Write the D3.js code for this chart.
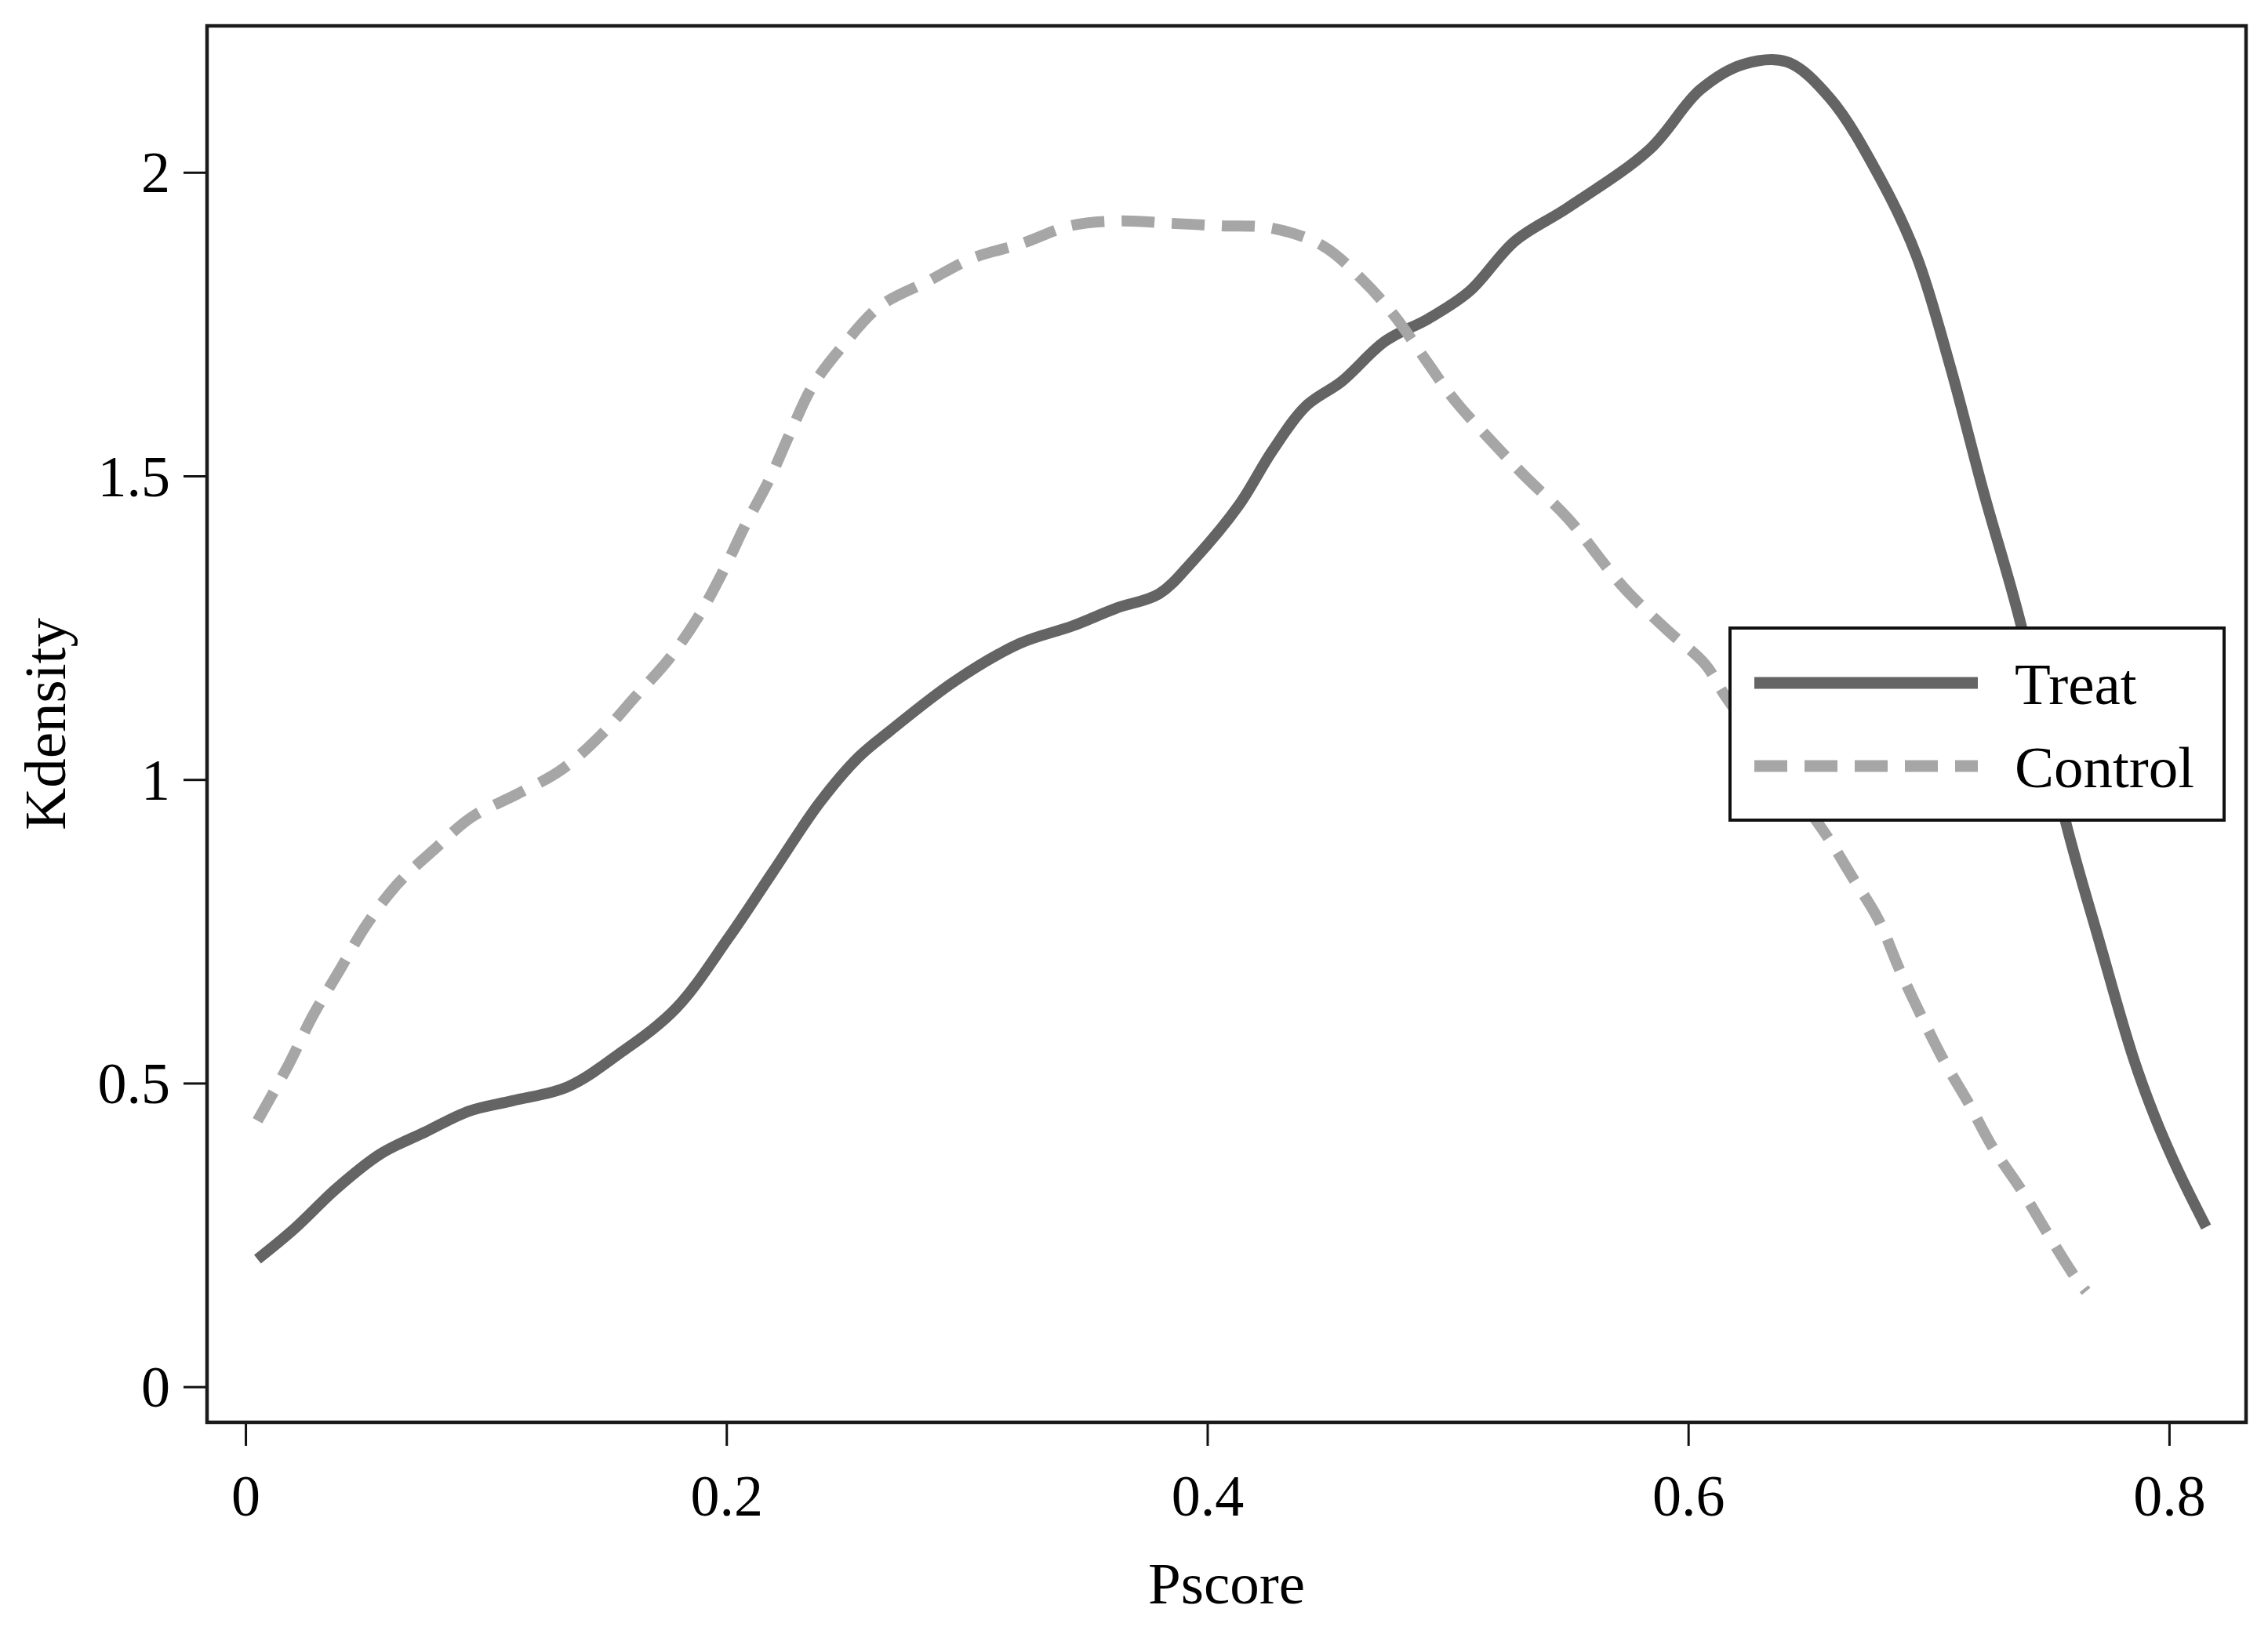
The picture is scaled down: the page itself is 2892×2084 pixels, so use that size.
<!DOCTYPE html>
<html>
<head>
<meta charset="utf-8">
<script src="https://cdn.jsdelivr.net/npm/d3@7"></script>
<style>
  body { margin: 0; background: #fff; }
  svg { display: block; }
</style>
</head>
<body>
<svg id="kdensityChart"></svg>
<script>
// pscore / kernel density
const treatPscore = [0.005, 0.02, 0.038, 0.056, 0.075, 0.093, 0.111, 0.134, 0.156, 0.179, 0.201, 0.219,
  0.239, 0.255, 0.268, 0.295, 0.322, 0.344, 0.362, 0.380, 0.394, 0.413, 0.427, 0.441, 0.456, 0.474,
  0.492, 0.509, 0.528, 0.550, 0.584, 0.605, 0.623, 0.641, 0.659, 0.680, 0.695, 0.709, 0.723, 0.738,
  0.757, 0.771, 0.785, 0.794, 0.8035, 0.8154];
const treatDensity = [0.21, 0.259, 0.327, 0.383, 0.42, 0.454, 0.471, 0.494, 0.55, 0.623, 0.74, 0.846,
  0.963, 1.037, 1.08, 1.162, 1.224, 1.253, 1.282, 1.306, 1.36, 1.451, 1.541, 1.615, 1.656, 1.722,
  1.759, 1.804, 1.887, 1.942, 2.038, 2.136, 2.178, 2.182, 2.122, 1.989, 1.862, 1.68, 1.471, 1.261,
  0.93, 0.733, 0.543, 0.445, 0.358, 0.263];

const controlPscore = [0.005, 0.018, 0.028, 0.039, 0.05, 0.063, 0.078, 0.094, 0.113, 0.131, 0.148, 0.162,
  0.176, 0.188, 0.199, 0.208, 0.218, 0.227, 0.236, 0.249, 0.264, 0.284, 0.302, 0.323, 0.343, 0.364,
  0.385, 0.406, 0.427, 0.448, 0.465, 0.478, 0.491, 0.503, 0.518, 0.532, 0.550, 0.573, 0.591, 0.607,
  0.616, 0.657, 0.668, 0.679, 0.688, 0.698, 0.707, 0.7165, 0.7268, 0.7387, 0.750, 0.761, 0.7655];
const controlDensity = [0.438, 0.531, 0.611, 0.685, 0.759, 0.827, 0.883, 0.938, 0.976, 1.015, 1.074, 1.136,
  1.198, 1.266, 1.346, 1.42, 1.495, 1.575, 1.649, 1.717, 1.78, 1.821, 1.858, 1.883, 1.912, 1.92,
  1.916, 1.912, 1.908, 1.879, 1.821, 1.763, 1.69, 1.624, 1.558, 1.5, 1.43, 1.317, 1.247, 1.19,
  1.134, 0.911, 0.841, 0.77, 0.686, 0.602, 0.532, 0.468, 0.393, 0.323, 0.249, 0.180, 0.157];

const seriesNames = ["Treat", "Control"];
const xTicks = [0, 0.2, 0.4, 0.6, 0.8];
const yTicks = [0, 0.5, 1, 1.5, 2];

const width = 2892, height = 2084;
const frame = {left: 264, right: 2864, top: 33, bottom: 1814};
const font = "'Liberation Serif', 'Times New Roman', serif";

const svg = d3.select('#kdensityChart')
    .attr('width', width)
    .attr('height', height);

const x = d3.scaleLinear()
    .domain([-0.016, 0.832])
    .range([frame.left, frame.right]);

const y = d3.scaleLinear()
    .domain([-0.0586, 2.2412])
    .range([frame.bottom, frame.top]);

const series = [
    {name: seriesNames[0], xs: treatPscore, ys: treatDensity, color: "#646464", dash: null},
    {name: seriesNames[1], xs: controlPscore, ys: controlDensity, color: "#a6a6a6", dash: "42,22"}
];

const line = d3.line()
    .x(d => x(d[0]))
    .y(d => y(d[1]))
    .curve(d3.curveCatmullRom.alpha(0.5));

// curves
svg.append('g').selectAll('path')
    .data(series)
    .enter()
    .append('path')
    .attr('d', s => line(s.xs.map((v, i) => [v, s.ys[i]])))
    .attr('fill', 'none')
    .attr('stroke', s => s.color)
    .attr('stroke-width', 14)
    .attr('stroke-dasharray', s => s.dash);

// axes
const yAxis = svg.append('g')
    .attr('transform', `translate(${frame.left},0)`)
    .call(d3.axisLeft(y).tickValues(yTicks).tickFormat(d3.format('')).tickSize(30).tickSizeOuter(0).tickPadding(17));

const xAxis = svg.append('g')
    .attr('transform', `translate(0,${frame.bottom})`)
    .call(d3.axisBottom(x).tickValues(xTicks).tickFormat(d3.format('')).tickSize(30).tickSizeOuter(0).tickPadding(36));

[xAxis, yAxis].forEach(ax => {
    ax.select('.domain').remove();
    ax.selectAll('.tick line').attr('stroke', '#111').attr('stroke-width', 3);
    ax.selectAll('.tick text')
        .attr('fill', '#000')
        .style('font-family', font)
        .style('font-size', '74px');
});
yAxis.selectAll('.tick text').attr('dy', '0.34em');

// plot frame
svg.append('rect')
    .attr('x', frame.left)
    .attr('y', frame.top)
    .attr('width', frame.right - frame.left)
    .attr('height', frame.bottom - frame.top)
    .attr('fill', 'none')
    .attr('stroke', '#1a1a1a')
    .attr('stroke-width', 4.5);

// axis titles
svg.append('text')
    .attr('x', (frame.left + frame.right) / 2)
    .attr('y', 2045)
    .attr('text-anchor', 'middle')
    .style('font-family', font)
    .style('font-size', '75px')
    .text('Pscore');

svg.append('text')
    .attr('transform', `translate(83,${(frame.top + frame.bottom) / 2}) rotate(-90)`)
    .attr('text-anchor', 'middle')
    .style('font-family', font)
    .style('font-size', '75px')
    .text('Kdensity');

// legend
const legend = svg.append('g');
legend.append('rect')
    .attr('x', 2206).attr('y', 801)
    .attr('width', 630).attr('height', 245)
    .attr('fill', '#fff')
    .attr('stroke', '#111')
    .attr('stroke-width', 4);

const items = legend.selectAll('g.item')
    .data(series)
    .enter()
    .append('g')
    .attr('transform', (d, i) => `translate(0,${871 + i * 106})`);

items.append('line')
    .attr('x1', 2237).attr('x2', 2522)
    .attr('stroke', d => d.color)
    .attr('stroke-width', 15)
    .attr('stroke-dasharray', d => d.dash);

items.append('text')
    .attr('x', 2569)
    .attr('y', 27)
    .style('font-family', font)
    .style('font-size', '75px')
    .text(d => d.name);
</script>
</body>
</html>
